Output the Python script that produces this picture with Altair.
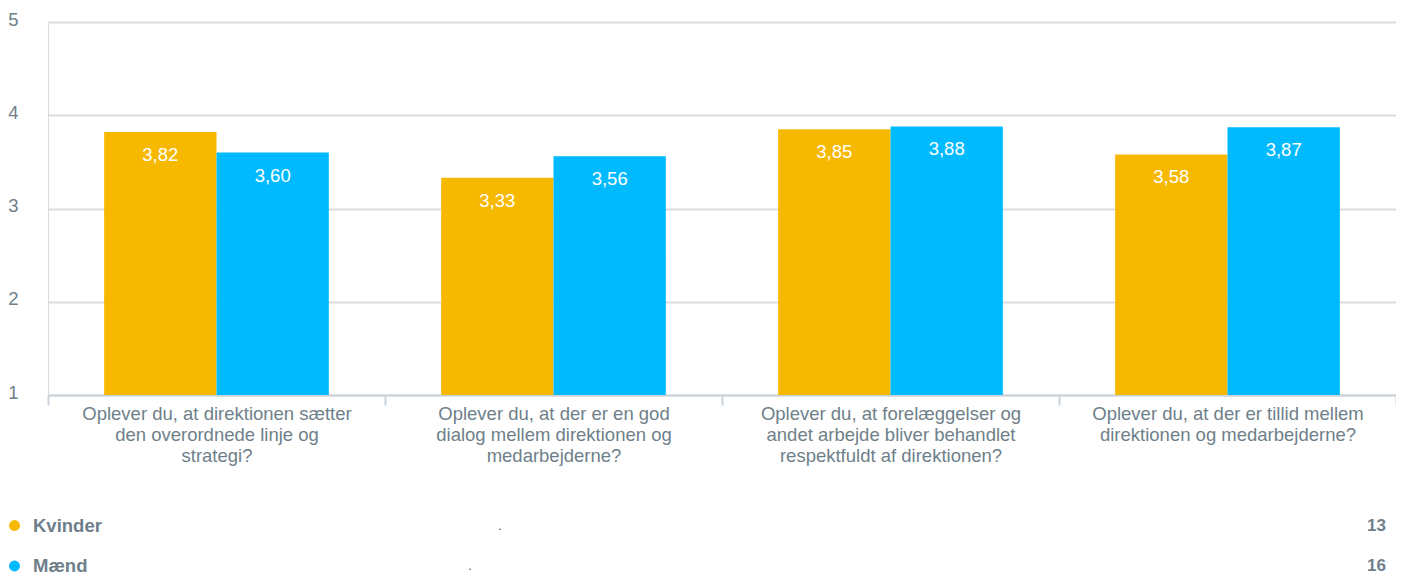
import altair as alt
import pandas as pd

questions = [
    "Oplever du, at direktionen sætter\nden overordnede linje og\nstrategi?",
    "Oplever du, at der er en god\ndialog mellem direktionen og\nmedarbejderne?",
    "Oplever du, at forelæggelser og\nandet arbejde bliver behandlet\nrespektfuldt af direktionen?",
    "Oplever du, at der er tillid mellem\ndirektionen og medarbejderne?",
]
series = ["Kvinder", "Mænd"]
kvinder = [3.82, 3.33, 3.85, 3.58]
maend = [3.60, 3.56, 3.88, 3.87]
counts = [13, 16]
colors = ["#F7B800", "#00BAFF"]
y_ticks = [1, 2, 3, 4, 5]

rows = []
for q, k, m in zip(questions, kvinder, maend):
    rows.append({"q": q, "s": series[0], "v": k})
    rows.append({"q": q, "s": series[1], "v": m})
df = pd.DataFrame(rows)
df["lbl"] = df["v"].map(lambda v: f"{v:.2f}".replace(".", ","))

leg = pd.DataFrame({"s": series, "n": counts})

GRAY = "#6E7F8A"
FONT = "Liberation Sans"

color = alt.Color("s:N", scale=alt.Scale(domain=series, range=colors), legend=None)

x_enc = alt.X(
    "q:N", sort=questions, title=None,
    scale=alt.Scale(paddingInner=0, paddingOuter=0),
    axis=alt.Axis(
        labelAngle=0,
        labelExpr="isValid(datum.value) ? split(datum.value, '\\n') : ''",
        labelFontSize=18.5, labelColor=GRAY, labelLineHeight=21,
        labelPadding=-1, labelLimit=0, labelFont=FONT, tickBand="extent",
        tickSize=10, tickColor="#C8D2DC", tickWidth=2,
        domainColor="#CCD3DA", domainWidth=2, grid=False,
    ),
)
xo_enc = alt.XOffset("s:N", sort=series,
                     scale=alt.Scale(paddingInner=0, paddingOuter=0.5))
y_enc = alt.Y(
    "v:Q", title=None, scale=alt.Scale(domain=[1, 5], zero=False),
    axis=alt.Axis(values=y_ticks, labelFontSize=18.5, labelColor=GRAY,
                  labelPadding=30, labelFont=FONT, ticks=False, domain=False,
                  grid=True, gridColor="#DCDCDC", gridWidth=2, labelOffset=-3),
)

bars = alt.Chart(df).mark_bar().encode(
    x=x_enc, xOffset=xo_enc, y=y_enc, y2=alt.datum(1), color=color
)
labels = alt.Chart(df).mark_text(
    dy=23, color="white", fontSize=18.5, font=FONT, baseline="middle"
).encode(x=x_enc, xOffset=xo_enc, y=y_enc, text="lbl:N")

main = alt.layer(bars, labels)

leg_scale = alt.Scale(type="point", domain=series, range=[503.5, 544], padding=0)
ly = alt.Y("s:N", scale=leg_scale, axis=None)
dots = alt.Chart(leg).mark_circle(size=120, opacity=1).encode(
    x=alt.value(-33.5), y=ly, color=color
)
names = alt.Chart(leg).mark_text(
    align="left", baseline="middle", fontSize=18.5, fontWeight="bold",
    color=GRAY, font=FONT
).encode(x=alt.value(-15), y=ly, text="s:N")
nums = alt.Chart(leg).mark_text(
    align="right", baseline="middle", fontSize=17, fontWeight="bold",
    color=GRAY, font=FONT
).encode(x=alt.value(1338), y=ly, text="n:Q")
p1 = alt.Chart(leg).mark_text(text=".", color=GRAY, fontSize=12, font=FONT).encode(
    x=alt.value(452), y=alt.datum("Kvinder", scale=leg_scale, axis=None)
)
p2 = alt.Chart(leg).mark_text(text=".", color=GRAY, fontSize=12, font=FONT).encode(
    x=alt.value(422), y=alt.datum("Mænd", scale=leg_scale, axis=None)
)
legend = alt.layer(dots, names, nums, p1, p2)

chart = alt.layer(main, legend).resolve_scale(y="independent").properties(
    width=1348, height=373,
    padding={"left": 40, "top": 14, "right": 0, "bottom": 184},
    autosize=alt.AutoSizeParams(type="none"),
).configure_view(stroke=None).configure(font=FONT)

chart.save("out.html", embed_options={"renderer": "svg", "actions": False})
